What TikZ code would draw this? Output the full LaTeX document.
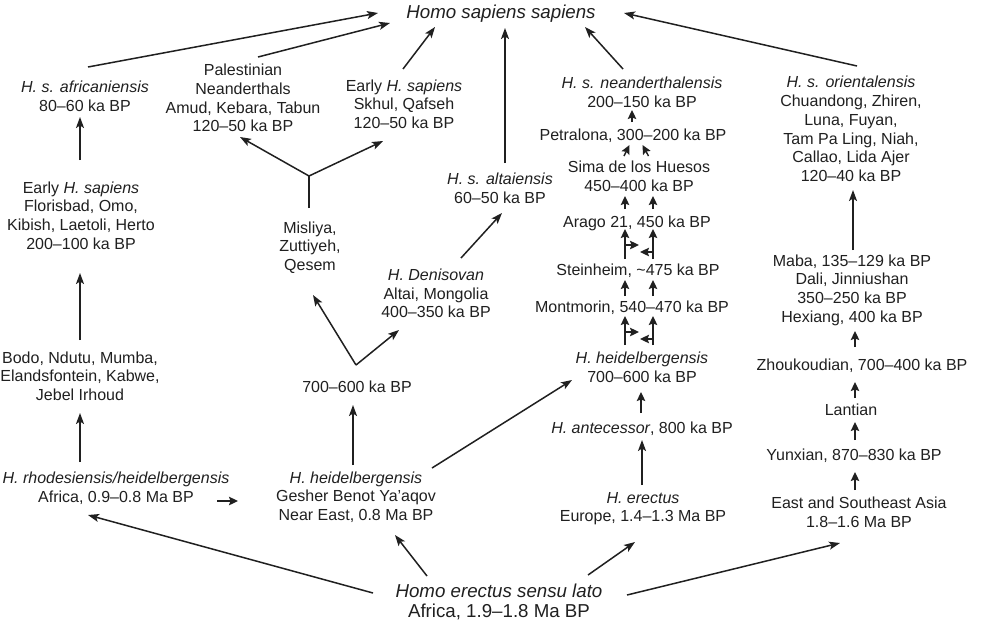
\documentclass[tikz,border=0pt]{standalone}
\usepackage{fontspec}
\setmainfont{Liberation Sans}
\usetikzlibrary{calc,arrows.meta}
\definecolor{ink}{RGB}{32,32,32}
\tikzset{
  lbl/.style={align=center, inner sep=0pt, font=\fontsize{16}{18.7}\selectfont, text=ink},
  big/.style={align=center, inner sep=0pt, font=\fontsize{18.7}{20.5}\selectfont, text=ink},
  arr/.style={draw=ink, line width=1.5pt, -{Stealth[length=11pt,width=8pt,inset=2.5pt]}},
  sarr/.style={draw=ink, line width=1.4pt, -{Stealth[length=9pt,width=8.5pt,inset=1.5pt]}},
  ln/.style={draw=ink, line width=1.5pt}
}
\begin{document}
\begin{tikzpicture}[x=1pt,y=-1pt]
\path[use as bounding box, fill=white] (0,0) rectangle (981,622);
% nodes
\node[big] (hss) at (501,14) {\textit{Homo sapiens sapiens}};
\node[lbl] (afr) at (85,96) {\textit{H. s. africaniensis}\\80–60 ka BP};
\node[lbl] (pal) at (243,98) {Palestinian\\Neanderthals\\Amud, Kebara, Tabun\\120–50 ka BP};
\node[lbl] (esk) at (404,104) {Early \textit{H. sapiens}\\Skhul, Qafseh\\120–50 ka BP};
\node[lbl] (nea) at (642,92) {\textit{H. s. neanderthalensis}\\200–150 ka BP};
\node[lbl] (ori) at (851,129) {\textit{H. s. orientalensis}\\Chuandong, Zhiren,\\Luna, Fuyan,\\Tam Pa Ling, Niah,\\Callao, Lida Ajer\\120–40 ka BP};
\node[lbl] (flo) at (81,215.5) {Early \textit{H. sapiens}\\Florisbad, Omo,\\Kibish, Laetoli, Herto\\200–100 ka BP};
\node[lbl] (mis) at (310,247.5) {Misliya,\\Zuttiyeh,\\Qesem};
\node[lbl] (alt) at (500,188) {\textit{H. s. altaiensis}\\60–50 ka BP};
\node[lbl] (den) at (436,293.5) {\textit{H. Denisovan}\\Altai, Mongolia\\400–350 ka BP};
\node[lbl] (nf) at (357,387) {700–600 ka BP};
\node[lbl] (bodo) at (80,376) {Bodo, Ndutu, Mumba,\\Elandsfontein, Kabwe,\\Jebel Irhoud};
\node[lbl] (rho) at (116,488) {\textit{H. rhodesiensis/heidelbergensis}\\Africa, 0.9–0.8 Ma BP};
\node[lbl] (ges) at (356,497) {\textit{H. heidelbergensis}\\Gesher Benot Ya'aqov\\Near East, 0.8 Ma BP};
\node[lbl] (pet) at (633,136) {Petralona, 300–200 ka BP};
\node[lbl] (sima) at (639,176.5) {Sima de los Huesos\\450–400 ka BP};
\node[lbl] (ara) at (637,223) {Arago 21, 450 ka BP};
\node[lbl] (ste) at (638,271) {Steinheim, \textasciitilde475 ka BP};
\node[lbl] (mon) at (632,308) {Montmorin, 540–470 ka BP};
\node[lbl] (heu) at (642,367.5) {\textit{H. heidelbergensis}\\700–600 ka BP};
\node[lbl] (ant) at (642,429) {\textit{H. antecessor}, 800 ka BP};
\node[lbl] (ere) at (643,508.5) {\textit{H. erectus}\\Europe, 1.4–1.3 Ma BP};
\node[lbl] (mab) at (852,290) {Maba, 135–129 ka BP\\Dali, Jinniushan\\350–250 ka BP\\Hexiang, 400 ka BP};
\node[lbl] (zho) at (862,366) {Zhoukoudian, 700–400 ka BP};
\node[lbl] (lan) at (851,410) {Lantian};
\node[lbl] (yun) at (854,456) {Yunxian, 870–830 ka BP};
\node[lbl] (eas) at (859,512.5) {East and Southeast Asia\\1.8–1.6 Ma BP};
\node[big] (hes) at (499,602) {\textit{Homo erectus sensu lato}\\Africa, 1.9–1.8 Ma BP};
% junction coordinates
\coordinate (nfj) at ($(nf.center)+(-1,-22)$);
\coordinate (mj) at ($(mis.center)+(-1,-71.5)$);
% arrows to Homo sapiens sapiens
\draw[arr] ($(afr.center)+(3,-29)$) -- ($(hss.center)+(-123,-1)$);
\draw[arr] ($(pal.center)+(15,-41)$) -- ($(hss.center)+(-111,9)$);
\draw[arr] ($(esk.center)+(-1,-35)$) -- ($(hss.center)+(-66,13)$);
\draw[arr] ($(alt.center)+(5,-25)$) -- ($(hss.center)+(4,14)$);
\draw[arr] ($(nea.center)+(-19,-23)$) -- ($(hss.center)+(84,13)$);
\draw[arr] ($(ori.center)+(6,-63)$) -- ($(hss.center)+(123,-1)$);
% African column
\draw[arr] ($(flo.center)+(-1,-55.5)$) -- ($(afr.center)+(-5,21)$);
\draw[arr] ($(bodo.center)+(0,-36)$) -- ($(flo.center)+(-1,57.5)$);
\draw[arr] ($(rho.center)+(-36,-26)$) -- ($(bodo.center)+(0,37)$);
\draw[sarr] ($(rho.center)+(101,13)$) -- ($(ges.center)+(-118,4)$);
% Near East
\draw[arr] ($(ges.center)+(-3,-32)$) -- ($(nf.center)+(-4,18)$);
\draw[arr] ($(ges.center)+(76,-29)$) -- ($(heu.center)+(-70,12.5)$);
\draw[arr] (nfj) -- ($(mis.center)+(3,47.5)$);
\draw[arr] (nfj) -- ($(den.center)+(-37,36.5)$);
\draw[arr] ($(den.center)+(25,-35.5)$) -- ($(alt.center)+(2,25)$);
\draw[ln] ($(mis.center)+(-1,-39.5)$) -- (mj);
\draw[arr] (mj) -- ($(pal.center)+(-3,39)$);
\draw[arr] (mj) -- ($(esk.center)+(-21,37)$);
% European column
\draw[sarr] ($(pet.center)+(-1,-14)$) -- ($(nea.center)+(-10,18)$);
\draw[sarr] ($(sima.center)+(-15,-20.5)$) -- ($(pet.center)+(-3.5,9)$);
\draw[sarr] ($(sima.center)+(9.5,-20.5)$) -- ($(pet.center)+(9.5,9)$);
\draw[sarr] ($(ara.center)+(-12,-14)$) -- ($(sima.center)+(-14,19.5)$);
\draw[sarr] ($(ara.center)+(16,-14)$) -- ($(sima.center)+(14,19.5)$);
\draw[sarr] ($(ste.center)+(-13,-12)$) -- ($(ara.center)+(-12,6)$);
\draw[sarr] ($(ste.center)+(15,-12)$) -- ($(ara.center)+(16,6)$);
\coordinate (xa1) at (625,245); \coordinate (xa2) at (639,245);
\coordinate (xb1) at (653,252); \coordinate (xb2) at (640,252);
\draw[sarr] (xa1) -- (xa2);
\draw[sarr] (xb1) -- (xb2);
\draw[sarr] ($(mon.center)+(-7,-12)$) -- ($(ste.center)+(-13,9)$);
\draw[sarr] ($(mon.center)+(21,-12)$) -- ($(ste.center)+(15,9)$);
\draw[sarr] ($(heu.center)+(-17,-22.5)$) -- ($(mon.center)+(-7,8)$);
\draw[sarr] ($(heu.center)+(11,-22.5)$) -- ($(mon.center)+(21,8)$);
\coordinate (xc1) at (625,332); \coordinate (xc2) at (639,332);
\coordinate (xd1) at (653,339); \coordinate (xd2) at (640,339);
\draw[sarr] (xc1) -- (xc2);
\draw[sarr] (xd1) -- (xd2);
\draw[sarr] ($(ant.center)+(-1,-16)$) -- ($(heu.center)+(-1,24.5)$);
\draw[arr] ($(ere.center)+(-1,-23.5)$) -- ($(ant.center)+(0,11)$);
% East Asian column
\draw[arr] ($(mab.center)+(1,-40)$) -- ($(ori.center)+(2,61)$);
\draw[sarr] ($(zho.center)+(-7,-19)$) -- ($(mab.center)+(3,41)$);
\draw[sarr] ($(lan.center)+(4,-12)$) -- ($(zho.center)+(-7,16)$);
\draw[sarr] ($(yun.center)+(1,-16)$) -- ($(lan.center)+(4,12)$);
\draw[sarr] ($(eas.center)+(-4,-22.5)$) -- ($(yun.center)+(1,16)$);
% from Homo erectus sensu lato
\draw[arr] ($(hes.center)+(-126,-9)$) -- ($(rho.center)+(-28,27)$);
\draw[arr] ($(hes.center)+(-72,-26)$) -- ($(ges.center)+(39,38)$);
\draw[arr] ($(hes.center)+(89,-27)$) -- ($(ere.center)+(-8,33.5)$);
\draw[arr] ($(hes.center)+(128,-7)$) -- ($(eas.center)+(-19,30.5)$);
\end{tikzpicture}
\end{document}
